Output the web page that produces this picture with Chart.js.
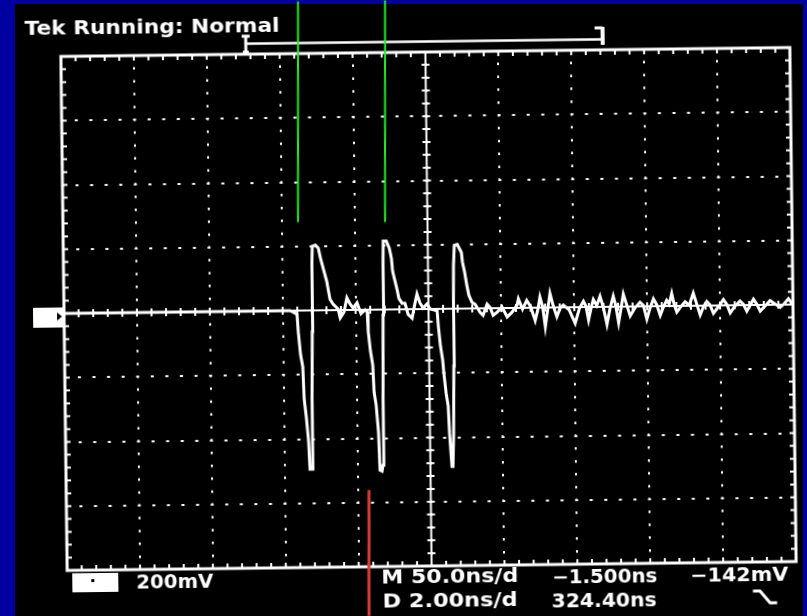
<!DOCTYPE html>
<html>
<head>
<meta charset="utf-8">
<script src="https://cdn.jsdelivr.net/npm/chart.js@4.4.1/dist/chart.umd.min.js"></script>
<style>
  html, body { margin: 0; padding: 0; width: 807px; height: 616px; overflow: hidden; background: #0000a0; }
  #screen { position: absolute; left: 15px; top: 4px; width: 788px; height: 612px; background: #000; }
  #wrap { position: absolute; left: 0; top: 0; width: 807px; height: 616px;
          transform: rotate(-0.7deg); transform-origin: 428.5px 309px; }
  canvas { display: block; }
</style>
</head>
<body>
<div id="screen"></div>
<div id="wrap"><canvas id="scope" width="807" height="616"></canvas></div>
<script>
// ---------------- data (time in ns, voltage in mV) ----------------
const timeNs = [
  0, 155.0, 157.8, 159.8, 160.5, 161.9, 163.3, 164.0, 165.3, 166.7, 167.4, 168.8, 169.4, 170.1, 170.4, 170.8,
  172.9, 174.9, 176.3, 177.7, 180.4, 182.5, 184.5, 188.0, 189.4, 192.1, 194.1, 196.2, 198.3, 201.0, 203.7, 206.5,
  207.9, 208.5, 209.9, 211.3, 212.0, 213.3, 214.7, 215.4, 216.8, 217.5, 218.1, 218.8, 219.2, 219.5, 221.6,
  223.6, 225.0, 225.7, 228.4, 229.8, 231.9, 233.9, 236.0, 238.7, 240.8, 242.2, 244.2, 246.3, 249.0, 251.1,
  255.9, 256.6, 257.9, 259.3, 260.0, 261.4, 262.7, 263.4, 264.8, 265.5, 266.2, 266.9, 267.2, 267.5, 268.2,
  270.3, 273.0, 273.7, 275.1, 276.5, 277.8, 279.9, 282.0, 285.4, 287.4, 290.2, 292.2, 294.3, 297.0, 300.5,
  303.9, 307.3, 310.8,
  311.7, 314.5, 317.4, 320.0, 323.1, 325.0, 326.5, 328.3, 330.0, 331.8, 333.4, 335.5, 338.0, 340.2, 342.5,
  346.5, 350.5, 353.5, 356.3, 358.0, 359.7, 361.4, 363.1, 365.4, 367.7, 370.0, 372.3, 374.5, 376.8, 378.5,
  380.3, 382.0, 383.7, 386.0, 388.3, 391.7, 395.1, 397.4, 399.7, 402.0, 404.3, 406.6, 408.9, 411.1, 413.4,
  415.1, 416.9, 418.6, 420.3, 423.1, 426.0, 428.9, 431.7, 434.0, 436.3, 438.6, 440.9, 443.1, 445.4, 448.9,
  452.3, 454.6, 456.9, 460.3, 463.7, 466.0, 468.3, 470.6, 472.9, 475.2, 477.5, 480.9, 484.3, 487.8, 491.2,
  494.0, 496.9, 500.0
];
const voltageMv = [
  0, 0, -6, -12, -66, -138, -175, -275, -331, -409, -494, -494, -275, -66, 144, 200,
  203, 194, 163, 138, 91, 34, 19, 3, -25, -6, 38, 19, 6, 22, -12, 0,
  -6, -69, -131, -172, -256, -297, -381, -500, -503, -484, -278, -16, 141, 213, 213,
  191, 159, 119, 66, 34, 19, 19, -16, -28, 19, 47, 19, 3, 16, 0,
  -6, -53, -116, -159, -200, -263, -303, -388, -491, -491, -388, -178, 28, 134, 197,
  200, 175, 144, 113, 72, 41, 19, 13, -13, -22, 13, 3, -22, -13, 3,
  -28, -13, 9,
  28, -4, 23, 4, -40, -6, 33, 2, -60, -5, 44, 6, -29, -3, 7,
  -8, -50, -4, 18, 3, -40, -6, 23, 4, 33, -3, -55, -5, 33, 2,
  -50, -7, 39, 5, -29, -4, 13, 3, -40, -5, 23, 4, -29, -3, 18,
  6, 39, 3, -19, -2, 13, 2, 39, 5, -29, -3, 13, 2, -24, -4,
  18, 3, -24, -2, 13, 3, -19, -1, 18, 2, -19, -3, 13, 2, -8,
  3, 18, 0
];

// scope settings / readouts
const nsPerDiv = 50;
const mvPerDiv = 200;
const horizDivs = 10;
const vertDivs = 8;
const headerText = 'Tek Running: Normal';
const channelScaleText = '200mV';
const readoutRow1 = ['M 50.0ns/d', '\u22121.500ns', '\u2212142mV'];
const readoutRow2 = ['D 2.00ns/d', '324.40ns'];
const recordBarNs = [126.9, 371.7];     // trigger mark T .. end bracket
const greenMarkersNs = [160.5, 220.2];
const redMarkersNs = [209.2];

// ---------------- drawing ----------------
const TILT = 0.7 * Math.PI / 180;   // canvas is rotated -0.7deg by CSS
const OX = 428.5, OY = 309;

function fitText(ctx, str, x, baseline, width, size) {
  ctx.font = 'bold ' + size + 'px "DejaVu Sans"';
  const w = ctx.measureText(str).width;
  ctx.save();
  ctx.translate(x, baseline);
  ctx.scale(width / w, 1);
  ctx.fillText(str, 0, 0);
  ctx.restore();
}

const graticule = {
  id: 'graticule',
  beforeDatasetsDraw(chart) {
    const { ctx, chartArea: a, scales: { x, y } } = chart;
    const x0 = x.getPixelForValue(nsPerDiv * horizDivs / 2);
    const y0 = y.getPixelForValue(0);
    ctx.save();
    ctx.strokeStyle = '#fff';
    ctx.lineWidth = 2;
    ctx.beginPath();
    const minorNs = nsPerDiv / 5, minorMv = mvPerDiv / 5;
    for (let t = 0; t <= nsPerDiv * horizDivs + 0.01; t += minorNs) {
      const px = x.getPixelForValue(t);
      ctx.moveTo(px, a.top); ctx.lineTo(px, a.top + 5);
      ctx.moveTo(px, a.bottom); ctx.lineTo(px, a.bottom - 5);
      ctx.moveTo(px, y0 - 4); ctx.lineTo(px, y0 + 4);
    }
    const vMax = mvPerDiv * vertDivs / 2;
    for (let v = -vMax; v <= vMax + 0.01; v += minorMv) {
      const py = y.getPixelForValue(v);
      ctx.moveTo(a.left, py); ctx.lineTo(a.left + 5, py);
      ctx.moveTo(a.right, py); ctx.lineTo(a.right - 5, py);
      ctx.moveTo(x0 - 4, py); ctx.lineTo(x0 + 4, py);
    }
    ctx.moveTo(a.left, y0); ctx.lineTo(a.right, y0);
    ctx.moveTo(x0, a.top); ctx.lineTo(x0, a.bottom);
    ctx.stroke();
    ctx.lineWidth = 3;
    ctx.strokeRect(a.left, a.top, a.right - a.left, a.bottom - a.top);
    ctx.restore();
  },
  afterDraw(chart) {
    const { ctx, chartArea: a, scales: { x, y } } = chart;
    const y0 = y.getPixelForValue(0);
    ctx.save();
    ctx.fillStyle = '#fff';
    ctx.strokeStyle = '#fff';
    ctx.textBaseline = 'alphabetic';

    // header
    fitText(ctx, headerText, 28, 30, 255, 19);

    // trigger position mark and record bar
    const bx0 = x.getPixelForValue(recordBarNs[0]);
    const bx1 = x.getPixelForValue(recordBarNs[1]);
    ctx.lineWidth = 3;
    ctx.beginPath();
    ctx.moveTo(bx0, 33); ctx.lineTo(bx0, 51);
    ctx.moveTo(bx0 - 4, 34); ctx.lineTo(bx0 + 4, 34);
    ctx.moveTo(bx0 - 3, 50); ctx.lineTo(bx0 + 3, 50);
    ctx.stroke();
    ctx.lineWidth = 2.5;
    ctx.beginPath();
    ctx.moveTo(bx0, 41.5); ctx.lineTo(bx1, 41.5);
    ctx.stroke();
    ctx.lineWidth = 4;
    ctx.beginPath();
    ctx.moveTo(bx1, 29); ctx.lineTo(bx1, 47);
    ctx.stroke();
    ctx.lineWidth = 3;
    ctx.beginPath();
    ctx.moveTo(bx1 - 8, 30); ctx.lineTo(bx1, 30);
    ctx.stroke();

    // ground reference marker
    ctx.fillRect(a.left - 31, y0 - 6, 30, 20);
    ctx.fillStyle = '#000';
    ctx.beginPath();
    ctx.moveTo(a.left - 7, y0 - 1);
    ctx.lineTo(a.left - 7, y0 + 7);
    ctx.lineTo(a.left - 2, y0 + 3);
    ctx.closePath();
    ctx.fill();
    ctx.fillStyle = '#fff';

    // channel box + scale
    ctx.fillRect(69, 569, 46, 19);
    ctx.fillStyle = '#000';
    ctx.fillRect(88, 575, 3, 3);
    ctx.fillStyle = '#fff';
    fitText(ctx, channelScaleText, 133, 585, 77, 19);

    // readouts
    fitText(ctx, readoutRow1[0], 378, 583, 137, 19);
    fitText(ctx, readoutRow1[1], 549, 584.5, 105, 19);
    fitText(ctx, readoutRow1[2], 687, 585, 98, 19);
    fitText(ctx, readoutRow2[0], 379, 606.5, 135, 19);
    fitText(ctx, readoutRow2[1], 548, 608.5, 105, 19);

    // trigger slope symbol (falling)
    ctx.lineWidth = 3;
    ctx.beginPath();
    ctx.moveTo(749.5, 595); ctx.lineTo(756.5, 595);
    ctx.lineTo(766.5, 607); ctx.lineTo(773.5, 607);
    ctx.stroke();

    // overlay cursor lines (undo the CSS tilt so they are upright)
    ctx.translate(OX, OY); ctx.rotate(TILT); ctx.translate(-OX, -OY);
    ctx.lineWidth = 2;
    ctx.strokeStyle = '#22f022';
    greenMarkersNs.forEach(t => {
      const px = x.getPixelForValue(t);
      ctx.beginPath(); ctx.moveTo(px, 0); ctx.lineTo(px, 222); ctx.stroke();
    });
    ctx.lineWidth = 3;
    ctx.strokeStyle = '#d83a3a';
    redMarkersNs.forEach(t => {
      const px = x.getPixelForValue(t);
      ctx.beginPath(); ctx.moveTo(px, 490); ctx.lineTo(px, 616); ctx.stroke();
    });
    ctx.restore();
  }
};

const points = timeNs.map((t, i) => ({ x: t, y: voltageMv[i] }));

new Chart(document.getElementById('scope'), {
  type: 'line',
  data: {
    datasets: [{
      label: 'CH1',
      data: points,
      borderColor: '#ffffff',
      borderWidth: 3,
      pointRadius: 0,
      tension: 0,
      fill: false
    }]
  },
  options: {
    responsive: false,
    animation: false,
    devicePixelRatio: 1,
    layout: { padding: { left: 64, right: 14, top: 52, bottom: 50 } },
    plugins: { legend: { display: false }, tooltip: { enabled: false } },
    scales: {
      x: {
        type: 'linear',
        min: 0, max: nsPerDiv * horizDivs,
        ticks: { display: false, stepSize: nsPerDiv },
        grid: { color: '#ffffff', lineWidth: 2, drawTicks: false },
        border: { display: false, dash: [2.5, 10.35], dashOffset: 1.25 }
      },
      y: {
        type: 'linear',
        min: -mvPerDiv * vertDivs / 2, max: mvPerDiv * vertDivs / 2,
        ticks: { display: false, stepSize: mvPerDiv },
        grid: { color: '#ffffff', lineWidth: 2, drawTicks: false },
        border: { display: false, dash: [3, 11.58], dashOffset: 1.5 }
      }
    }
  },
  plugins: [graticule]
});
</script>
</body>
</html>
